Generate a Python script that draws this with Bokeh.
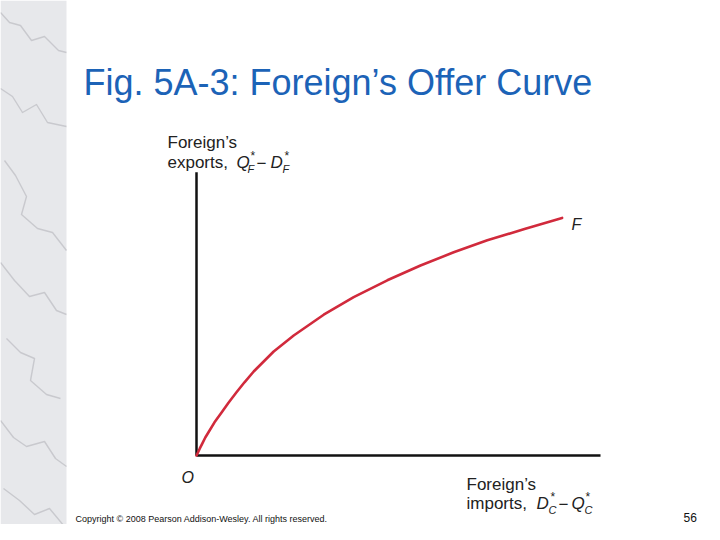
from bokeh.plotting import figure
from bokeh.models import Range1d
from bokeh.core.properties import value
from bokeh.embed import file_html
from bokeh.resources import INLINE

# ---- Data: Foreign's offer curve (imports on x, exports on y), diagram units ----
imports = [0.0, 0.08, 0.15, 0.22, 0.30, 0.45, 0.60, 0.80, 1.00, 1.20, 1.43, 1.93, 2.43,
           3.18, 3.93, 4.77, 5.60, 6.43, 7.27, 8.20, 9.14]
exports = [0.0, 0.17, 0.31, 0.45, 0.58, 0.83, 1.04, 1.32, 1.58, 1.83, 2.10, 2.60, 3.00,
           3.52, 3.96, 4.38, 4.75, 5.08, 5.38, 5.66, 5.94]
x_axis_len = 10.1
y_axis_len = 7.08

title_text = "Fig. 5A-3: Foreign\u2019s Offer Curve"
copyright_text = "Copyright \u00a9 2008 Pearson Addison-Wesley. All rights reserved."
page_number = "56"

# ---- layout: screen pixel -> diagram units (origin at px 196,455; 40 px / unit) ----
OX, OY, S = 196.0, 455.0, 40.0
def X(px):
    return (px - OX) / S
def Y(py):
    return (OY - py) / S

W, H = 704, 524
p = figure(width=W, height=H, output_backend="svg", toolbar_location=None,
           x_range=Range1d(X(0), X(W)), y_range=Range1d(Y(H), Y(0)),
           min_border=0, x_axis_location=None, y_axis_location=None,
           background_fill_color="white", border_fill_color="white")
p.outline_line_color = None
p.grid.visible = False

# ---- marble strip on the left ----
p.quad(left=[X(0)], right=[X(66)], top=[Y(0)], bottom=[Y(545)],
       fill_color="#e7e8eb", line_color=None)
veins = [
    [(0, 12), (9, 22), (20, 25), (31, 40), (44, 36), (58, 50), (66, 52)],
    [(0, 88), (12, 96), (22, 112), (36, 104), (47, 122), (66, 126)],
    [(4, 160), (15, 175), (26, 196), (21, 214), (37, 228), (52, 232), (66, 250)],
    [(0, 262), (14, 280), (29, 296), (44, 292), (56, 310), (66, 314)],
    [(6, 338), (20, 352), (34, 358), (30, 380), (46, 394), (60, 398)],
    [(0, 420), (13, 437), (26, 446), (44, 441), (55, 458), (66, 466)],
    [(3, 488), (19, 500), (34, 514), (49, 508), (64, 526)],
]
p.multi_line(xs=[[X(a) for a, b in v] for v in veins],
             ys=[[Y(b) for a, b in v] for v in veins],
             line_color="#a3a5ab", line_width=1.4, line_alpha=0.45,
             line_join="round")

# ---- axes ----
p.segment(x0=[0, 0], y0=[0, 0], x1=[x_axis_len, 0], y1=[0, y_axis_len],
          line_color="#111111", line_width=2.5)

# ---- offer curve ----
p.line(imports, exports, line_color="#d12a3c", line_width=2.6,
       line_join="round", line_cap="round")

font = value("Liberation Sans")

def txt(px, py, s, size, color="#222222", style="normal", align="left"):
    p.text(x=[X(px)], y=[Y(py)], text=[s], text_font=font, text_font_size=f"{size}px",
           text_font_style=style, text_color=color, text_baseline="alphabetic",
           text_align=align)

# title
txt(83, 82, title_text, 36, color="#1c63b7")

# y-axis label
txt(167, 142, "Foreign\u2019s", 17)
txt(167, 162, "exports,", 17)
txt(236, 162, "Q", 17, style="italic")
txt(250, 155, "*", 12)
txt(247, 168, "F", 11, style="italic")
txt(256, 162, "\u2212", 17)
txt(270, 162, "D", 17, style="italic")
txt(284, 155, "*", 12)
txt(282, 168, "F", 11, style="italic")

# x-axis label
txt(466, 484, "Foreign\u2019s", 17)
txt(466, 503, "imports,", 17)
txt(536, 503, "D", 17, style="italic")
txt(550, 496, "*", 12)
txt(548, 509, "C", 11, style="italic")
txt(558, 503, "\u2212", 17)
txt(571, 503, "Q", 17, style="italic")
txt(585, 496, "*", 12)
txt(584, 509, "C", 11, style="italic")

# point labels
txt(181, 477, "O", 16, style="italic")
txt(571, 224, "F", 16, style="italic")

# footer
txt(75, 518, copyright_text, 9, color="#111111")
txt(683, 517, page_number, 12, color="#111111")

open("out.html", "w").write(file_html(p, INLINE))
